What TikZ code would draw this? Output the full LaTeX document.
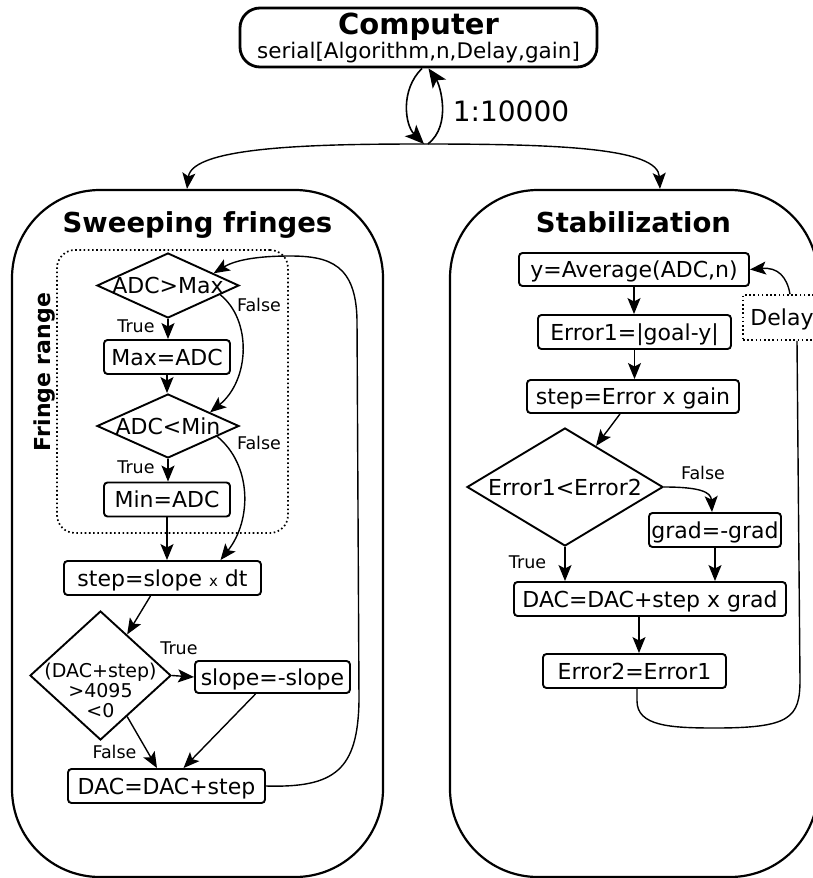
\documentclass[tikz,border=0pt]{standalone}
\usepackage{fontspec}
\setmainfont{DejaVu Sans}
\usetikzlibrary{shapes.geometric,arrows.meta}
\newcommand{\myfs}[1]{\fontsize{#1}{#1}\selectfont}
\newcommand{\dtxt}[1]{\makebox[0pt]{#1}}
\begin{document}
\begin{tikzpicture}[x=1pt,y=-1pt,
  box/.style={draw, rounded corners=3.5pt, line width=1.9pt, inner sep=0pt,
    font=\myfs{22}, text height=16pt, text depth=0pt},
  dia/.style={draw, diamond, line width=1.9pt, inner sep=0pt,
    font=\myfs{22}, text height=16pt, text depth=0pt},
  arr/.style={-{Stealth[length=16pt,width=13pt,inset=3.5pt]}, line width=1.4pt},
  bigarr/.style={-{Stealth[length=19pt,width=16pt,inset=4.5pt]}, line width=1.6pt},
  lbl/.style={font=\myfs{17.5}, inner sep=0pt},
  panel/.style={draw, line width=2.2pt, inner sep=0pt, rounded corners=88pt},
  title/.style={font=\bfseries\myfs{27.5}, inner sep=0pt, text height=20pt, text depth=0pt},
  dotbox/.style={draw, line width=1.7pt, dash pattern=on 1.6pt off 2.6pt, inner sep=0pt}
]
\useasboundingbox (0,0) rectangle (813,878);

% top
\node[draw, line width=2.8pt, rounded corners=20pt, minimum width=357pt, minimum height=59pt,
  inner sep=0pt, align=center, font=\myfs{21.5}, text depth=3pt] (comp) at (418.5,37.5)
  {{\bfseries\myfs{29}Computer}\\[1pt]serial[Algorithm,n,Delay,gain]};
\coordinate (split) at (424,144);
\node[font=\myfs{28}, inner sep=0pt] (ratio) at (511,111) {1:10000};
\draw[bigarr] ([xshift=3.5pt]comp.south) .. controls (400,90) and (405,125) .. (split);
\draw[bigarr] ([xshift=4pt]split) .. controls (452,125) and (440,85) .. ([xshift=10pt]comp.south);

% panels
\node[panel, minimum width=371pt, minimum height=687pt] (pan1) at (197.5,533.5) {};
\node[panel, minimum width=368pt, minimum height=687pt] (pan2) at (634,533.5) {};
\draw[arr] (split) .. controls (320,144) and (192,146) .. ([xshift=-10.5pt]pan1.north);
\draw[arr] (split) .. controls (560,144) and (658,148) .. ([xshift=26pt]pan2.north);
\node[title] (t1) at (197.5,222.5) {Sweeping fringes};
\node[title] (t2) at (633.5,222.5) {Stabilization};

% left flow
\node[dotbox, rounded corners=18pt, minimum width=231pt, minimum height=283pt] (frbox) at (172.5,391.5) {};
\node[font=\bfseries\myfs{22}, rotate=90, inner sep=0pt, text height=16pt, text depth=0pt] (frt) at (42,372) {Fringe range};
\node[dia, minimum width=142pt, minimum height=65pt] (d1) at (168,285.5) {\dtxt{ADC>Max}};
\node[box, minimum width=126pt, minimum height=34pt] (maxb) at (167,357) {Max=ADC};
\node[dia, minimum width=142pt, minimum height=64pt] (d2) at (168,426) {\dtxt{ADC<Min}};
\node[box, minimum width=126pt, minimum height=34pt] (minb) at (167,499.5) {Min=ADC};
\node[box, minimum width=197pt, minimum height=34pt] (stepb) at (162.5,578) {step=slope {\myfs{15}x} dt};
\node[dia, minimum width=141pt, minimum height=129pt, text height=0pt] (d3) at (100.5,675.5)
  {\dtxt{\raisebox{-22pt}[0pt][0pt]{\myfs{19}\begin{tabular}{@{}c@{}}(DAC+step)\\>4095\\<0\end{tabular}}}};
\node[box, minimum width=155pt, minimum height=32pt] (slope) at (272.5,677) {slope=-slope};
\node[box, minimum width=197pt, minimum height=34pt] (dacb) at (166.5,786) {DAC=DAC+step};

\draw[arr] (d1.south) -- (d1.south |- maxb.north);
\draw[arr] (maxb.south) -- (maxb.south |- d2.north);
\draw[arr] (d2.south) -- (d2.south |- minb.north);
\draw[arr] (minb.south) -- (minb.south |- stepb.north);
\draw[arr] (d1.-10) .. controls (252,320) and (250,380) .. (d2.18);
\draw[arr] (d2.-12) .. controls (252,465) and (252,520) .. ([xshift=58pt]stepb.north);
\draw[arr] ([xshift=-12pt]stepb.south) -- (d3.57);
\draw[arr] (d3.east) -- (slope.west);
\draw[arr] (d3.-57) -- ([xshift=-9.5pt]dacb.north);
\draw[arr] ([xshift=-17pt]slope.south) -- ([xshift=17pt]dacb.north);
\draw[arr] (dacb.east) .. controls (335,788) and (358,770) .. (359,700) -- (357,320)
  .. controls (356,265) and (330,256) .. (290,256) .. controls (250,256) and (232,262) .. (d1.15);

\node[lbl] (tr1) at (136,326) {True};
\node[lbl] (fa1) at (259,305) {False};
\node[lbl] (tr2) at (136,467) {True};
\node[lbl] (fa2) at (259,443) {False};
\node[lbl] (tr3) at (179,648) {True};
\node[lbl] (fa3) at (114.5,752) {False};

% right flow
\node[box, minimum width=230pt, minimum height=33pt] (ybox) at (634,269.5) {y=Average(ADC,n)};
\node[box, minimum width=193pt, minimum height=34pt] (err1) at (634.5,332) {Error1=|goal-y|};
\node[box, minimum width=212pt, minimum height=33pt] (stepr) at (633,396.5) {step=Error x gain};
\node[dia, minimum width=196pt, minimum height=118pt] (d4) at (565,487) {\dtxt{Error1<Error2}};
\node[box, minimum width=132pt, minimum height=34pt] (grad) at (715,530) {grad=-grad};
\node[box, minimum width=272pt, minimum height=34pt] (dac2) at (650,599) {DAC=DAC+step x grad};
\node[box, minimum width=183pt, minimum height=34pt] (err2) at (634.5,671) {Error2=Error1};
\node[dotbox, minimum width=78pt, minimum height=45pt, font=\myfs{22}, text height=16pt, text depth=0pt] (delay) at (782,317.5) {Delay};

\draw[arr] (ybox.south) -- (ybox.south |- err1.north);
\draw[arr] (err1.south) -- (err1.south |- stepr.north);
\draw[arr] ([xshift=-13pt]stepr.south) -- (d4.53);
\draw[arr] (d4.east) .. controls (700,487) and (711,492) .. ([xshift=-3pt]grad.north);
\draw[arr] (d4.south) -- (d4.south |- dac2.north);
\draw[arr] (grad.south) -- (grad.south |- dac2.north);
\draw[arr] ([xshift=-11pt]dac2.south) -- ([xshift=-11pt]dac2.south |- err2.north);
\draw[line width=1.4pt] ([xshift=2.5pt]err2.south) -- ++(0,12) .. controls (637,726) and (670,728) .. (715,728)
  .. controls (790,728) and (800,718) .. (800,680) -- ([xshift=15pt]delay.south);
\draw[arr] ([xshift=8pt]delay.north) .. controls (787,277) and (778,267) .. (ybox.east);

\node[lbl] (fa4) at (703,473) {False};
\node[lbl] (tr4) at (527.5,562) {True};
\end{tikzpicture}
\end{document}
